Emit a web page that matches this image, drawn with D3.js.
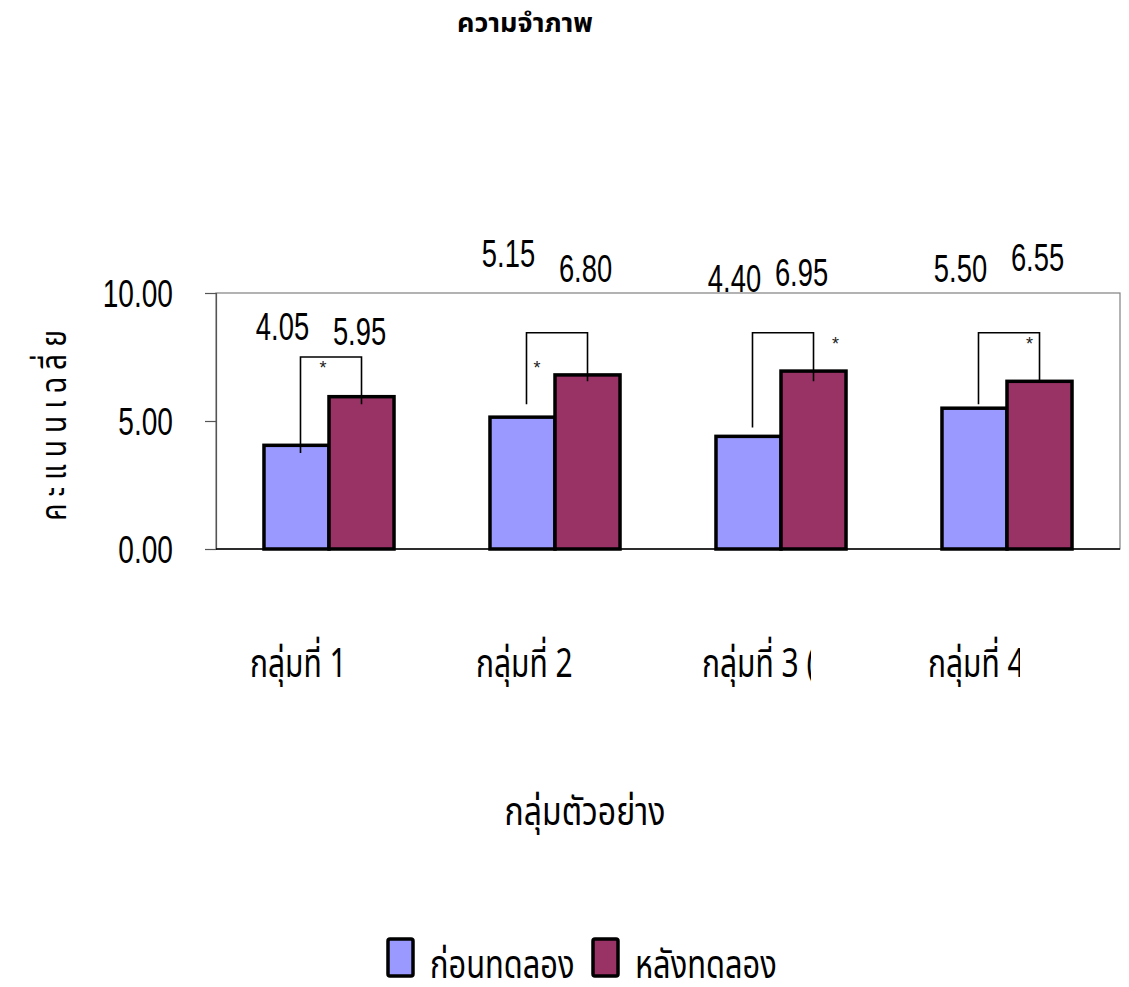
<!DOCTYPE html>
<html><head><meta charset="utf-8">
<script src="https://cdn.jsdelivr.net/npm/d3@7"></script>
<style>
body{margin:0;background:#fff;}
svg text{font-family:"Noto Sans Thai","Liberation Sans",sans-serif;}
</style></head>
<body><svg id="c" width="1129" height="987"></svg>
<script>
// ---- data ----
const categories = ["กลุ่มที่ 1", "กลุ่มที่ 2", "กลุ่มที่ 3 (", "กลุ่มที่ 4"];
const series = ["ก่อนทดลอง", "หลังทดลอง"];
const beforeValues = [4.05, 5.15, 4.40, 5.50];
const afterValues  = [5.95, 6.80, 6.95, 6.55];
const yTicks = [0, 5, 10];
// value-label anchor levels (data units) as placed in the original
const beforeLabelLevel = [8.16, 11.02, 10.04, 10.44];
const afterLabelLevel  = [7.97, 10.44, 10.28, 10.87];
// significance brackets (data units)
const bracketTop      = [7.50, 8.45, 8.45, 8.45];
const bracketLeftLow  = [3.75, 5.65, 4.75, 5.65];
const bracketRightLow = [5.65, 6.55, 6.55, 6.55];
const sigMark = ["*", "*", "*", "*"];
const sigLevel = [7.30, 7.30, 8.25, 8.25];
const title = "ความจำภาพ";
const xTitle = "กลุ่มตัวอย่าง";
const yTitle = "คะแนนเฉลี่ย";

const colors = {"ก่อนทดลอง":"#9999FF","หลังทดลอง":"#993366"};

const svg = d3.select("#c");
const L = 216, R = 1120, T = 293, B = 549;
const x0 = d3.scaleBand().domain(categories).range([L, R]);
const x1 = d3.scaleBand().domain(series).range([0, x0.bandwidth()]).paddingOuter(0.738);
const y = d3.scaleLinear().domain([0, 10]).range([B, T]);

const rows = categories.map((c,i)=>({c, i, v:{[series[0]]:beforeValues[i],[series[1]]:afterValues[i]}}));
const NUMFONT = '"Liberation Sans",Arial,sans-serif';

// place a text at (x,y) horizontally condensed by sx
function condense(sel, sx){
  sel.each(function(){
    const t = d3.select(this);
    const x = +t.attr("x")||0, yy = +t.attr("y")||0;
    t.attr("x",0).attr("y",0).attr("transform",`translate(${x},${yy}) scale(${sx},1)`);
  });
}

// frame
svg.append("rect").attr("x",L).attr("y",T).attr("width",R-L).attr("height",B-T)
  .attr("fill","none").attr("stroke","#808080").attr("stroke-width",1.2);

// y axis
const yAxis = d3.axisLeft(y).tickValues(yTicks).tickFormat(d3.format(".2f")).tickSize(11).tickPadding(32);
const gy = svg.append("g").attr("transform",`translate(${L},0)`).call(yAxis);
gy.select(".domain").attr("stroke","#555").attr("stroke-width",1.2);
gy.selectAll(".tick line").attr("stroke","#555").attr("stroke-width",1.2);
gy.selectAll(".tick text").attr("font-size",38).attr("fill","#000").attr("dy","0.36em")
  .style("font-family",NUMFONT).call(condense,0.74);

// bottom axis line
svg.append("line").attr("x1",L).attr("x2",R).attr("y1",B).attr("y2",B).attr("stroke","#000").attr("stroke-width",1.5);

// bars
const g = svg.append("g").selectAll("g").data(rows).join("g")
  .attr("transform",d=>`translate(${x0(d.c)},0)`);
g.selectAll("rect").data(d=>series.map(s=>({s,v:d.v[s]}))).join("rect")
  .attr("x",d=>x1(d.s)).attr("width",x1.bandwidth())
  .attr("y",d=>y(d.v)).attr("height",d=>y(0)-y(d.v))
  .attr("fill",d=>colors[d.s]).attr("stroke","#000").attr("stroke-width",3.5)
  .attr("stroke-linejoin","miter");

// brackets
const cx = (c,s)=> x0(c)+x1(s)+x1.bandwidth()/2;
svg.append("g").selectAll("path").data(rows).join("path")
  .attr("d",d=>{
    const xl = cx(d.c,series[0])+4, xr = cx(d.c,series[1]);
    return `M${xl},${y(bracketLeftLow[d.i])}V${y(bracketTop[d.i])}H${xr}V${y(bracketRightLow[d.i])}`;
  })
  .attr("fill","none").attr("stroke","#000").attr("stroke-width",1.6);

// asterisks
svg.append("g").selectAll("text").data(rows).join("text")
  .attr("x",d=> d.i<2 ? x0(d.c)+x0.bandwidth()/2 - (d.i==0?6:18) : cx(d.c,series[1])+ (d.i==2?22:-10))
  .attr("y",d=>y(sigLevel[d.i])+12)
  .attr("text-anchor","middle").attr("font-size",18).attr("fill","#222")
  .style("font-family",NUMFONT)
  .text(d=>sigMark[d.i]);

// value labels
const lbl = svg.append("g").attr("font-size",38).attr("text-anchor","middle");
lbl.selectAll("text.b").data(rows).join("text").attr("class","b")
  .style("font-family",NUMFONT)
  .attr("x",d=>cx(d.c,series[0])-14).attr("y",d=>y(beforeLabelLevel[d.i]))
  .text(d=>d3.format(".2f")(beforeValues[d.i])).call(condense,0.72);
lbl.selectAll("text.a").data(rows).join("text").attr("class","a")
  .style("font-family",NUMFONT)
  .attr("x",d=>cx(d.c,series[1]) - (d.i==2?12:2)).attr("y",d=>y(afterLabelLevel[d.i]))
  .text(d=>d3.format(".2f")(afterValues[d.i])).call(condense,0.72);

// x tick labels (clipped like the original)
const clipW = [140, 140, 109, 92];
const defs = svg.append("defs");
rows.forEach(d=>{
  defs.append("clipPath").attr("id","cl"+d.i).append("rect")
    .attr("x",x0(d.c)+x0.bandwidth()/2-79).attr("y",600).attr("width",clipW[d.i]).attr("height",120);
});
const xt = svg.append("g");
rows.forEach(d=>{
  xt.append("g").attr("clip-path",`url(#cl${d.i})`)
    .append("text").attr("x",x0(d.c)+x0.bandwidth()/2-79).attr("y",677)
    .attr("font-size",40).attr("fill","#000").text(d.c).call(condense,0.75);
});

// axis titles
svg.append("text").attr("x",585).attr("y",825).attr("text-anchor","middle").attr("font-size",40)
  .text(xTitle).call(condense,0.8);
svg.append("text").attr("transform","translate(66,422) rotate(-90) scale(0.78,1)").attr("text-anchor","middle")
  .attr("font-size",36).attr("letter-spacing",9).text(yTitle);

// title
svg.append("text").attr("x",525).attr("y",32).attr("text-anchor","middle").attr("font-size",27)
  .attr("font-weight","bold").text(title);

// legend
const lg = svg.append("g");
const legX = [388, 593];
series.forEach((s,i)=>{
  lg.append("rect").attr("x",legX[i]).attr("y",939).attr("width",25).attr("height",37).attr("rx",2)
    .attr("fill",colors[s]).attr("stroke","#000").attr("stroke-width",3.5);
  lg.append("text").attr("x",legX[i]+42).attr("y",978).attr("font-size",40).text(s).call(condense,0.77);
});
</script></body></html>
